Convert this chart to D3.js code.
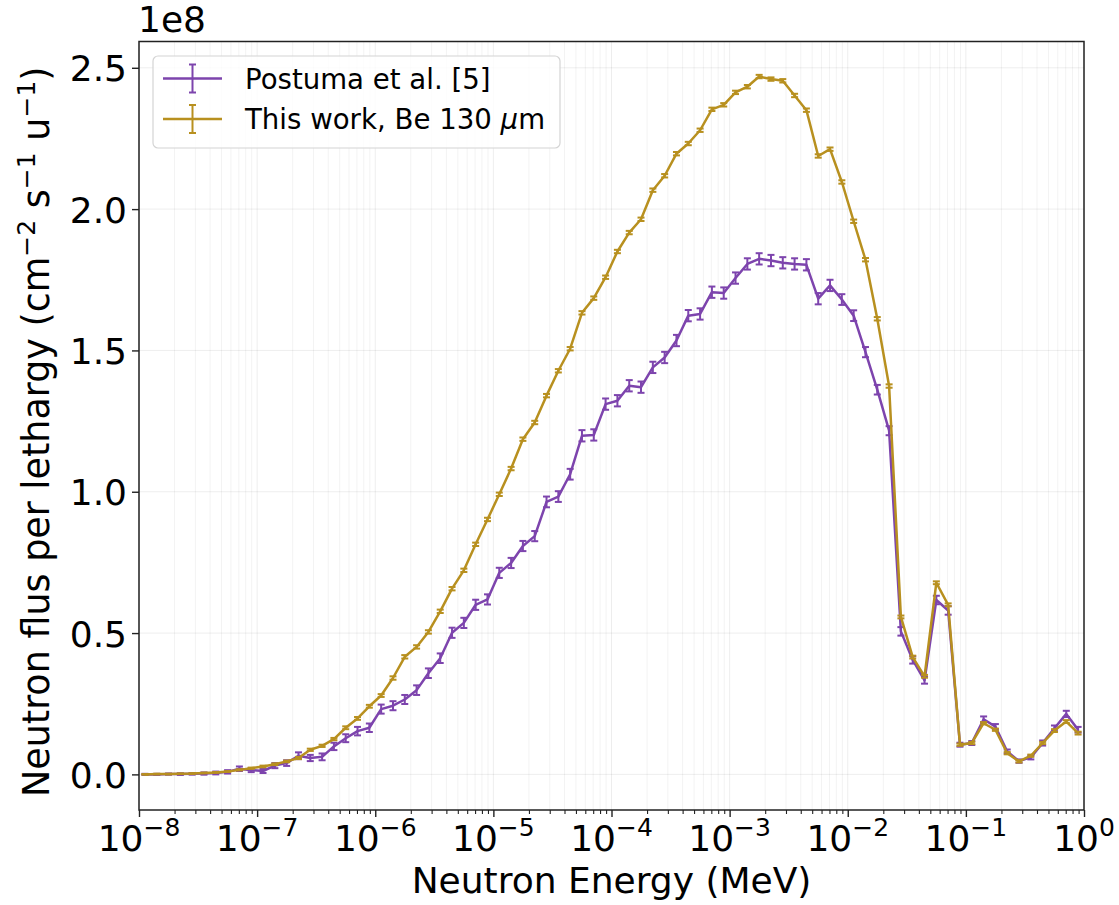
<!DOCTYPE html>
<html>
<head>
<meta charset="utf-8">
<script src="https://cdn.jsdelivr.net/npm/d3@7"></script>
<style>
  body { margin: 0; background: #fff; }
  text { font-family: "DejaVu Sans", sans-serif; }
</style>
</head>
<body>
<svg id="chart" width="1119" height="905"></svg>
<script>
// Energy bins: 10 logarithmic bins per decade, plotted at the bin centres
const decades = [-8, -7, -6, -5, -4, -3, -2, -1];
const mantissas = [1.122, 1.413, 1.778, 2.239, 2.818, 3.548, 4.467, 5.623, 7.079, 8.913];

// Flux per lethargy in units of 1e8 cm^-2 s^-1 u^-1
const postuma = [
  0.000, 0.000, 0.001, 0.001, 0.002, 0.003, 0.005, 0.009, 0.020, 0.015,
  0.012, 0.031, 0.040, 0.066, 0.058, 0.062, 0.099, 0.128, 0.153, 0.165,
  0.231, 0.243, 0.265, 0.298, 0.358, 0.411, 0.501, 0.536, 0.600, 0.619,
  0.713, 0.748, 0.808, 0.843, 0.964, 0.983, 1.062, 1.198, 1.201, 1.310,
  1.322, 1.375, 1.370, 1.440, 1.475, 1.535, 1.623, 1.629, 1.706, 1.703,
  1.756, 1.806, 1.824, 1.818, 1.810, 1.806, 1.803, 1.683, 1.730, 1.680,
  1.623, 1.494, 1.361, 1.216, 0.506, 0.405, 0.333, 0.617, 0.580, 0.105,
  0.111, 0.195, 0.169, 0.081, 0.047, 0.060, 0.111, 0.163, 0.214, 0.158
];
const postumaErr = [
  0.002, 0.002, 0.002, 0.003, 0.003, 0.004, 0.005, 0.006, 0.008, 0.007,
  0.007, 0.009, 0.010, 0.012, 0.011, 0.012, 0.013, 0.014, 0.015, 0.015,
  0.016, 0.016, 0.016, 0.017, 0.017, 0.017, 0.018, 0.018, 0.018, 0.018,
  0.018, 0.018, 0.018, 0.018, 0.019, 0.019, 0.019, 0.020, 0.020, 0.020,
  0.020, 0.020, 0.020, 0.020, 0.020, 0.020, 0.020, 0.020, 0.020, 0.020,
  0.020, 0.020, 0.020, 0.020, 0.020, 0.020, 0.020, 0.020, 0.020, 0.019,
  0.019, 0.018, 0.017, 0.016, 0.015, 0.013, 0.012, 0.015, 0.015, 0.007,
  0.007, 0.010, 0.009, 0.007, 0.006, 0.007, 0.009, 0.010, 0.011, 0.010
];
const thisWork = [
  0.000, 0.001, 0.001, 0.002, 0.003, 0.005, 0.007, 0.010, 0.016, 0.022,
  0.028, 0.036, 0.046, 0.058, 0.087, 0.101, 0.125, 0.165, 0.198, 0.241,
  0.279, 0.341, 0.416, 0.451, 0.504, 0.577, 0.657, 0.722, 0.814, 0.902,
  0.991, 1.082, 1.186, 1.245, 1.340, 1.428, 1.506, 1.633, 1.685, 1.759,
  1.850, 1.917, 1.964, 2.067, 2.118, 2.196, 2.232, 2.279, 2.353, 2.369,
  2.413, 2.433, 2.469, 2.460, 2.454, 2.402, 2.350, 2.188, 2.212, 2.096,
  1.957, 1.821, 1.612, 1.374, 0.557, 0.415, 0.347, 0.678, 0.600, 0.105,
  0.111, 0.181, 0.158, 0.075, 0.046, 0.066, 0.111, 0.155, 0.187, 0.146
];
const thisWorkErr = [
  0.001, 0.001, 0.001, 0.001, 0.001, 0.001, 0.001, 0.001, 0.002, 0.002,
  0.003, 0.003, 0.003, 0.004, 0.004, 0.004, 0.004, 0.005, 0.005, 0.005,
  0.005, 0.006, 0.006, 0.006, 0.006, 0.006, 0.006, 0.006, 0.006, 0.006,
  0.006, 0.006, 0.006, 0.006, 0.006, 0.006, 0.006, 0.006, 0.006, 0.006,
  0.006, 0.006, 0.006, 0.006, 0.006, 0.006, 0.006, 0.006, 0.006, 0.006,
  0.006, 0.006, 0.006, 0.006, 0.006, 0.006, 0.006, 0.006, 0.006, 0.006,
  0.006, 0.006, 0.006, 0.006, 0.005, 0.005, 0.005, 0.005, 0.005, 0.004,
  0.004, 0.004, 0.004, 0.004, 0.004, 0.004, 0.004, 0.005, 0.005, 0.005
];

const xTickExponents = [-8, -7, -6, -5, -4, -3, -2, -1, 0];
const yTicks = [0, 0.5, 1.0, 1.5, 2.0, 2.5];
const yTickLabels = ["0.0", "0.5", "1.0", "1.5", "2.0", "2.5"];

const seriesNames = ["Postuma et al. [5]", "This work, Be 130 "];
const seriesColors = ["#7d44ad", "#b8901f"];

const energies = decades.flatMap(d => mantissas.map(m => m * Math.pow(10, d)));

const svg = d3.select("#chart");
const L = 139, R = 1084, T = 41.5, B = 810;

const x = d3.scaleLog().domain([1e-8, 1]).range([L, R]);
const y = d3.scaleLinear().domain([-0.126, 2.593]).range([B, T]);

// grid
const minorX = [];
for (let d = -8; d < 0; d++) for (let k = 2; k <= 9; k++) minorX.push(k * Math.pow(10, d));
const majorX = xTickExponents.map(e => Math.pow(10, e));

const grid = svg.append("g");
grid.selectAll("line.minx").data(minorX).join("line")
  .attr("x1", d => x(d)).attr("x2", d => x(d)).attr("y1", T).attr("y2", B)
  .attr("stroke", "#000").attr("stroke-opacity", 0.05).attr("stroke-width", 1);
grid.selectAll("line.majx").data(majorX).join("line")
  .attr("x1", d => x(d)).attr("x2", d => x(d)).attr("y1", T).attr("y2", B)
  .attr("stroke", "#000").attr("stroke-opacity", 0.07).attr("stroke-width", 1);
grid.selectAll("line.majy").data(yTicks).join("line")
  .attr("x1", L).attr("x2", R).attr("y1", d => y(d)).attr("y2", d => y(d))
  .attr("stroke", "#000").attr("stroke-opacity", 0.07).attr("stroke-width", 1);

// series with error bars
const plot = svg.append("g");
const line = d3.line().x(d => x(d.e)).y(d => y(d.v));
const cap = 3.5;
[[postuma, postumaErr], [thisWork, thisWorkErr]].forEach(([vals, errs], s) => {
  const pts = vals.map((v, i) => ({ e: energies[i], v, err: errs[i] }));
  const g = plot.append("g");
  g.append("path").datum(pts).attr("d", line)
    .attr("fill", "none").attr("stroke", seriesColors[s])
    .attr("stroke-width", 2.5).attr("stroke-linejoin", "round");
  const eb = g.selectAll("g.eb").data(pts).join("g")
    .attr("stroke", seriesColors[s]).attr("stroke-width", 2);
  eb.append("line")
    .attr("x1", d => x(d.e)).attr("x2", d => x(d.e))
    .attr("y1", d => y(d.v - d.err)).attr("y2", d => y(d.v + d.err));
  eb.append("line")
    .attr("x1", d => x(d.e) - cap).attr("x2", d => x(d.e) + cap)
    .attr("y1", d => y(d.v - d.err)).attr("y2", d => y(d.v - d.err));
  eb.append("line")
    .attr("x1", d => x(d.e) - cap).attr("x2", d => x(d.e) + cap)
    .attr("y1", d => y(d.v + d.err)).attr("y2", d => y(d.v + d.err));
});

// axes
const axisColor = "#222";
const xAxisMajor = svg.append("g").attr("transform", `translate(0,${B})`)
  .call(d3.axisBottom(x).tickValues(majorX).tickSize(7).tickFormat(""));
const xAxisMinor = svg.append("g").attr("transform", `translate(0,${B})`)
  .call(d3.axisBottom(x).tickValues(minorX).tickSize(4).tickFormat(""));
const yAxis = svg.append("g").attr("transform", `translate(${L},0)`)
  .call(d3.axisLeft(y).tickValues(yTicks).tickSize(7).tickFormat((d, i) => yTickLabels[i]));
[xAxisMajor, xAxisMinor, yAxis].forEach(a => {
  a.select(".domain").remove();
  a.selectAll(".tick line").attr("stroke", axisColor).attr("stroke-width", 1.4);
});
xAxisMinor.selectAll(".tick line").attr("stroke-width", 1.1);
yAxis.selectAll(".tick text")
  .attr("font-size", 36).attr("fill", "#000").attr("x", -12)
  .attr("font-family", "DejaVu Sans").attr("dy", "0.36em");

// x tick labels: 10 with superscript exponent
const xl = svg.append("g");
xTickExponents.forEach(ex => {
  const t = xl.append("text").attr("x", x(Math.pow(10, ex))).attr("y", 851)
    .attr("text-anchor", "middle").attr("font-size", 36).attr("fill", "#000");
  t.append("tspan").text("10");
  t.append("tspan").attr("font-size", 25).attr("dy", -15)
    .text(ex < 0 ? "\u2212" + Math.abs(ex) : String(ex));
});

// frame
svg.append("rect").attr("x", L).attr("y", T).attr("width", R - L).attr("height", B - T)
  .attr("fill", "none").attr("stroke", axisColor).attr("stroke-width", 1.5);

// offset label
svg.append("text").attr("x", L - 1).attr("y", 32).attr("font-size", 36).attr("fill", "#000").text("1e8");

// axis labels
svg.append("text").attr("x", (L + R) / 2).attr("y", 893).attr("text-anchor", "middle")
  .attr("font-size", 36).attr("fill", "#000").text("Neutron Energy (MeV)");

const yl = svg.append("text").attr("transform", `translate(49,${(T + B) / 2 + 6}) rotate(-90)`)
  .attr("text-anchor", "middle").attr("font-size", 36.5).attr("fill", "#000");
yl.append("tspan").text("Neutron flus per lethargy (cm");
yl.append("tspan").attr("font-size", 25).attr("dy", -14).text("\u22122");
yl.append("tspan").attr("dy", 14).text(" s");
yl.append("tspan").attr("font-size", 25).attr("dy", -14).text("\u22121");
yl.append("tspan").attr("dy", 14).text(" u");
yl.append("tspan").attr("font-size", 25).attr("dy", -14).text("\u22121");
yl.append("tspan").attr("dy", 14).text(")");

// legend
const lg = svg.append("g");
lg.append("rect").attr("x", 153).attr("y", 56).attr("width", 407).attr("height", 92)
  .attr("rx", 5).attr("fill", "#fff").attr("fill-opacity", 0.8)
  .attr("stroke", "#d4d4d4").attr("stroke-width", 1.2);
const rowsY = [78.5, 119];
seriesNames.forEach((name, i) => {
  const cy = rowsY[i], c = seriesColors[i];
  lg.append("line").attr("x1", 163).attr("x2", 222).attr("y1", cy).attr("y2", cy)
    .attr("stroke", c).attr("stroke-width", 2.5);
  lg.append("line").attr("x1", 192.5).attr("x2", 192.5).attr("y1", cy - 14).attr("y2", cy + 14)
    .attr("stroke", c).attr("stroke-width", 2);
  [cy - 14, cy + 14].forEach(yy => lg.append("line")
    .attr("x1", 189).attr("x2", 196).attr("y1", yy).attr("y2", yy)
    .attr("stroke", c).attr("stroke-width", 2));
  const t = lg.append("text").attr("x", 245).attr("y", cy + 10)
    .attr("font-size", 27.6).attr("fill", "#000").text(name);
  if (i === 1) {
    t.append("tspan").attr("font-style", "italic").text("\u03bc");
    t.append("tspan").text("m");
  }
});
</script>
</body>
</html>
